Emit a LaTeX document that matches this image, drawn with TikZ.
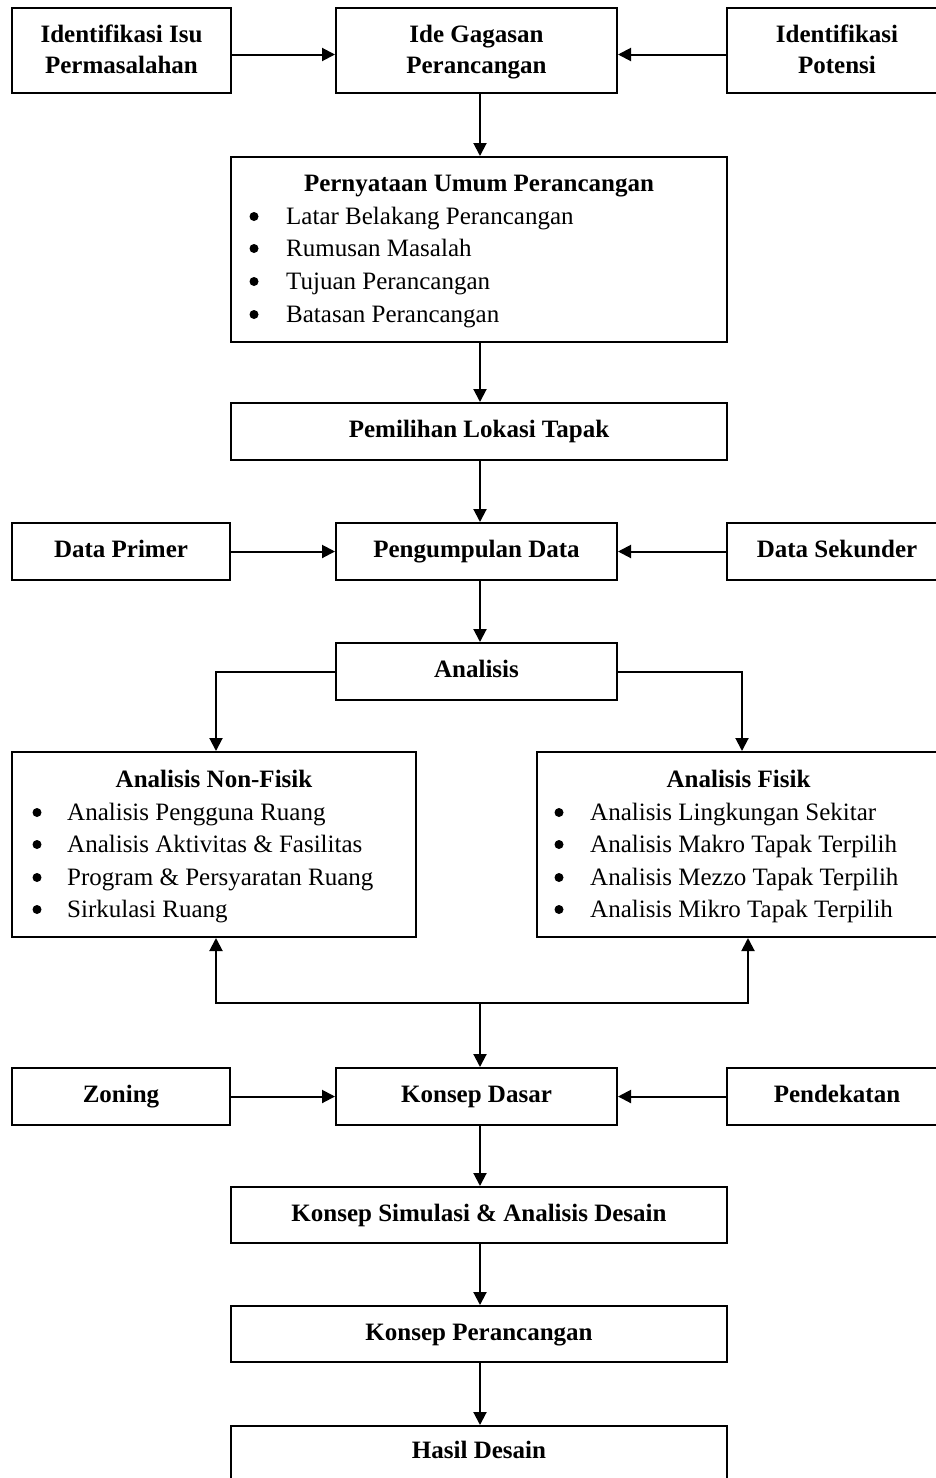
\documentclass[tikz,border=0pt]{standalone}
\usepackage{fontspec}
\setmainfont{Liberation Serif}
\usetikzlibrary{arrows.meta}
\newcommand\diagfont{\fontsize{25}{31}\selectfont}
\tikzset{
  box/.style={draw, line width=2pt, rectangle, inner sep=0pt, align=center, font=\diagfont\bfseries,
    execute at begin node=\strut, execute at end node=\strut},
  twotext/.style={inner sep=0pt, align=center, font=\diagfont\bfseries,
    execute at begin node=\strut, execute at end node=\strut},
  frame/.style={draw, line width=2pt, rectangle, inner sep=0pt},
  head/.style={anchor=base, inner sep=0pt, font=\diagfont\bfseries},
  item/.style={anchor=base west, inner sep=0pt, font=\diagfont},
  dot/.style={circle, fill, inner sep=0pt, minimum size=9pt},
  ln/.style={line width=2pt},
}
\begin{document}
\begin{tikzpicture}[x=1pt, y=-1pt, >={Triangle[length=13pt,width=13pt]}]
\useasboundingbox (0,0) rectangle (935,1478);

% first row
\node[frame, minimum width=219pt, minimum height=85pt] (isu) at (121.5,50.5) {};
\node[twotext] (isut) at (121.5,53.5) {Identifikasi Isu\\Permasalahan};
\node[frame, minimum width=281pt, minimum height=85pt] (ide) at (476.5,50.5) {};
\node[twotext] (idet) at (476.5,53.5) {Ide Gagasan\\Perancangan};
\node[frame, minimum width=220pt, minimum height=85pt] (pot) at (837,50.5) {};
\node[twotext] (pott) at (837,53.5) {Identifikasi\\Potensi};

% general statement
\node[frame, minimum width=496pt, minimum height=185pt] (pern) at (479,249.5) {};
\node[head] (pernt) at (479,191) {Pernyataan Umum Perancangan};
\node[item] (pern1) at (286,224) {Latar Belakang Perancangan};
\node[item] (pern2) at (286,256) {Rumusan Masalah};
\node[item] (pern3) at (286,289) {Tujuan Perancangan};
\node[item] (pern4) at (286,322) {Batasan Perancangan};
\node[dot] (pernb1) at (254,216.5) {};
\node[dot] (pernb2) at (254,248.5) {};
\node[dot] (pernb3) at (254,281.5) {};
\node[dot] (pernb4) at (254,314.5) {};

\node[box, minimum width=496pt, minimum height=57pt] (pem) at (479,431.5) {Pemilihan Lokasi Tapak};

% data collection row
\node[box, minimum width=218pt, minimum height=57pt] (dp) at (121,551.5) {Data Primer};
\node[box, minimum width=281pt, minimum height=57pt] (pd) at (476.5,551.5) {Pengumpulan Data};
\node[box, minimum width=220pt, minimum height=57pt] (ds) at (837,551.5) {Data Sekunder};

\node[box, minimum width=281pt, minimum height=57pt] (ana) at (476.5,671.5) {Analisis};

% analysis boxes
\node[frame, minimum width=404pt, minimum height=185pt] (nf) at (214,844.5) {};
\node[head] (nft) at (214,787) {Analisis Non-Fisik};
\node[item] (nf1) at (67,820) {Analisis Pengguna Ruang};
\node[item] (nf2) at (67,852) {Analisis Aktivitas \& Fasilitas};
\node[item] (nf3) at (67,885) {Program \& Persyaratan Ruang};
\node[item] (nf4) at (67,917) {Sirkulasi Ruang};
\node[dot] (nfb1) at (37,812.5) {};
\node[dot] (nfb2) at (37,844.5) {};
\node[dot] (nfb3) at (37,877.5) {};
\node[dot] (nfb4) at (37,909.5) {};

\node[frame, minimum width=403pt, minimum height=185pt] (fi) at (738.5,844.5) {};
\node[head] (fit) at (738.5,787) {Analisis Fisik};
\node[item] (fi1) at (590,820) {Analisis Lingkungan Sekitar};
\node[item] (fi2) at (590,852) {Analisis Makro Tapak Terpilih};
\node[item] (fi3) at (590,885) {Analisis Mezzo Tapak Terpilih};
\node[item] (fi4) at (590,917) {Analisis Mikro Tapak Terpilih};
\node[dot] (fib1) at (559,812.5) {};
\node[dot] (fib2) at (559,844.5) {};
\node[dot] (fib3) at (559,877.5) {};
\node[dot] (fib4) at (559,909.5) {};

% concept row
\node[box, minimum width=218pt, minimum height=57pt] (zon) at (121,1096.5) {Zoning};
\node[box, minimum width=281pt, minimum height=57pt] (kd) at (476.5,1096.5) {Konsep Dasar};
\node[box, minimum width=220pt, minimum height=57pt] (pen) at (837,1096.5) {Pendekatan};

\node[box, minimum width=496pt, minimum height=56pt] (ksa) at (479,1215) {Konsep Simulasi \& Analisis Desain};
\node[box, minimum width=496pt, minimum height=56pt] (kp) at (479,1334) {Konsep Perancangan};
\node[frame, minimum width=496pt, minimum height=80pt] (hd) at (479,1466) {};
\node[head] (hdt) at (479,1458) {Hasil Desain};

% spine and junction points
\coordinate (sp) at (480,0);
\coordinate (jl) at (216,1003);
\coordinate (jr) at (748,1003);
\coordinate (jc) at (480,1003);

% connectors
\draw[ln,->] ([yshift=-4pt]isu.east) -- ([yshift=-4pt]ide.west);
\draw[ln,->] ([yshift=-4pt]pot.west) -- ([yshift=-4pt]ide.east);
\draw[ln,->] (ide.south -| sp) -- (pern.north -| sp);
\draw[ln,->] (pern.south -| sp) -- (pem.north -| sp);
\draw[ln,->] (pem.south -| sp) -- (pd.north -| sp);
\draw[ln,->] (dp) -- (pd);
\draw[ln,->] (ds) -- (pd);
\draw[ln,->] (pd.south -| sp) -- (ana.north -| sp);
\draw[ln,->] (ana.west) -| ([xshift=2pt]nf.north);
\draw[ln,->] (ana.east) -| ([xshift=3.5pt]fi.north);
\draw[ln,<->] (jl |- nf.south) -- (jl) -- (jr) -- (jr |- fi.south);
\draw[ln,->] (jc) -- (kd.north -| sp);
\draw[ln,->] (zon) -- (kd);
\draw[ln,->] (pen) -- (kd);
\draw[ln,->] (kd.south -| sp) -- (ksa.north -| sp);
\draw[ln,->] (ksa.south -| sp) -- (kp.north -| sp);
\draw[ln,->] (kp.south -| sp) -- (hd.north -| sp);
\end{tikzpicture}
\end{document}
